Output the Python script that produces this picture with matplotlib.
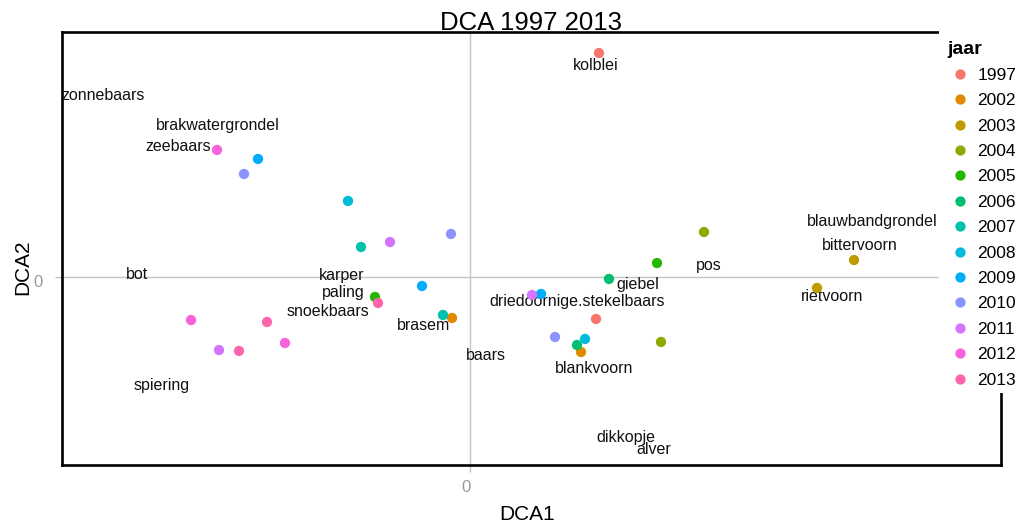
import matplotlib
matplotlib.use("Agg")
import matplotlib.pyplot as plt
from matplotlib.lines import Line2D
from matplotlib.patches import Rectangle
from matplotlib.transforms import ScaledTranslation

plt.rcParams['font.family'] = ['Liberation Sans', 'DejaVu Sans']

# Sampling years and their hue colours
years = ['1997', '2002', '2003', '2004', '2005', '2006', '2007',
         '2008', '2009', '2010', '2011', '2012', '2013']
year_colors = ['#F8766D', '#E18A00', '#BE9C00', '#8CAB00', '#24B700', '#00BE70',
               '#00C1AB', '#00BBDA', '#00ACFC', '#8B93FF', '#D575FE', '#F962DD',
               '#FF65AC']

# Site scores (one row per sample)
site_year = ['1997', '1997', '2002', '2002', '2003', '2003', '2004', '2004',
             '2005', '2005', '2006', '2006', '2007', '2007', '2008', '2008',
             '2009', '2009', '2009', '2010', '2010', '2010', '2011', '2011', '2011',
             '2012', '2012', '2012', '2013', '2013', '2013']
site_dca1 = [0.645, 0.630, -0.090, 0.555, 1.920, 1.735, 1.170, 0.955,
             0.935, -0.475, 0.695, 0.535, -0.545, -0.135, -0.610, 0.575,
             -1.060, -0.240, 0.355, -1.130, -0.095, 0.425, -0.400, 0.310, -1.255,
             -1.265, -1.395, -0.925, -0.460, -1.015, -1.155]
site_dca2 = [1.493, -0.280, -0.273, -0.500, 0.113, -0.073, 0.300, -0.433,
             0.093, -0.133, -0.013, -0.453, 0.200, -0.253, 0.507, -0.413,
             0.787, -0.060, -0.113, 0.687, 0.287, -0.400, 0.233, -0.120, -0.487,
             0.847, -0.287, -0.440, -0.173, -0.300, -0.493]

# Species scores
species = ['zonnebaars', 'brakwatergrondel', 'zeebaars', 'kolblei',
           'blauwbandgrondel', 'bittervoorn', 'pos', 'bot', 'karper', 'paling',
           'snoekbaars', 'brasem', 'giebel', 'driedoornige.stekelbaars',
           'rietvoorn', 'baars', 'blankvoorn', 'spiering', 'dikkopje', 'alver']
species_dca1 = [-1.835, -1.260, -1.460, 0.630, 2.010, 1.950, 1.195, -1.665,
                -0.640, -0.635, -0.710, -0.230, 0.840, 0.538, 1.810, 0.080,
                0.620, -1.540, 0.780, 0.920]
species_dca2 = [1.207, 1.007, 0.867, 1.407, 0.367, 0.207, 0.080, 0.020,
                0.013, -0.100, -0.227, -0.320, -0.053, -0.160, -0.133, -0.520,
                -0.607, -0.720, -1.067, -1.147]

W, H = 1018, 524
fig = plt.figure(figsize=(W / 100, H / 100), dpi=100)
ax = fig.add_axes([62 / W, 1 - 465 / H, 939 / W, 433 / H])
ax.set_xlim(-2.04, 2.655)
ax.set_ylim(-1.2533, 1.6333)

color_of = dict(zip(years, year_colors))

# zero reference lines
ax.set_xticks([0])
ax.set_yticks([0])
ax.grid(True, color='#C4C4C4', linewidth=1.0, zorder=1)
ax.set_axisbelow(True)

for s in ax.spines.values():
    s.set_linewidth(1.9)
    s.set_color('black')

ax.tick_params(axis='both', length=5, width=0.9, color='#B8B8B8',
               labelcolor='#999999', labelsize=12)
ax.tick_params(axis='x', pad=5.5)
ax.tick_params(axis='y', pad=9)
for lab in ax.get_xticklabels():
    lab.set_transform(lab.get_transform() + ScaledTranslation(-4 / 100, 0, fig.dpi_scale_trans))
for lab in ax.get_yticklabels():
    lab.set_transform(lab.get_transform() + ScaledTranslation(0, -4 / 100, fig.dpi_scale_trans))

# species labels
for name, x, y in zip(species, species_dca1, species_dca2):
    ax.text(x, y, name, ha='center', va='center', fontsize=11.5,
            color='#111111', zorder=3, clip_on=False)

# site points
ax.scatter(site_dca1, site_dca2, s=55, c=[color_of[y] for y in site_year],
           linewidths=0, zorder=4, clip_on=False)

# white legend area over the panel corner
ax.add_patch(Rectangle((939 / W, 1 - 393 / H), 1.0, 1.0, transform=fig.transFigure,
                       facecolor='white', edgecolor='none', zorder=2.8, clip_on=False))

handles = [Line2D([], [], marker='o', linestyle='', markersize=7.4,
                  markerfacecolor=c, markeredgewidth=0) for c in year_colors]
leg = ax.legend(handles, years, title='jaar', loc='upper left',
                bbox_to_anchor=(947 / W, 1 - 40.5 / H), bbox_transform=fig.transFigure,
                frameon=False, fontsize=12.5, handlelength=1.45, handletextpad=0.3,
                labelspacing=0.59, borderpad=0, borderaxespad=0,
                alignment='left',
                title_fontproperties={'weight': 'bold', 'size': 14})
leg.set_zorder(5)

fig.text(531 / W, 1 - 29.5 / H, 'DCA 1997 2013', ha='center', va='baseline',
         fontsize=18.5, color='black')
fig.text(527 / W, 1 - 520 / H, 'DCA1', ha='center', va='baseline',
         fontsize=15, color='black')
fig.text(28 / W, 1 - 267 / H, 'DCA2', ha='center', va='baseline', rotation=90,
         rotation_mode='anchor', fontsize=15, color='black')

fig.savefig('out.png', dpi=100)
